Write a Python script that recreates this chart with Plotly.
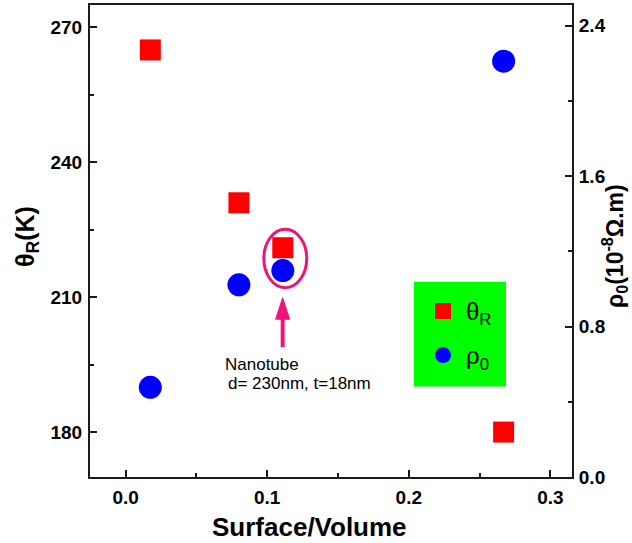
import plotly.graph_objects as go

# ---- data ----
surface_volume = [0.0174, 0.080, 0.111, 0.267]
theta_R = [265, 231, 221, 180]          # K (left axis)
rho_0 = [0.477, 1.022, 1.098, 2.211]    # 10^-8 Ohm.m (right axis)

x_ticks = [0.0, 0.1, 0.2, 0.3]
x_tick_labels = ["0.0", "0.1", "0.2", "0.3"]
left_ticks = [180, 210, 240, 270]
right_ticks = [0.0, 0.8, 1.6, 2.4]
right_tick_labels = ["0.0", "0.8", "1.6", "2.4"]

FONT = "Liberation Sans, Arial, sans-serif"
AX = "#1a1a1a"
PINK = "#f0147a"

fig = go.Figure()
fig.add_trace(go.Scatter(
    x=surface_volume, y=theta_R, mode="markers", name="θ<sub>R</sub>",
    legendgroup="t",
    marker=dict(symbol="square", size=21, color="#ff0000", line=dict(width=0)),
    yaxis="y"))
fig.add_trace(go.Scatter(
    x=surface_volume, y=rho_0, mode="markers", name="ρ<sub>0</sub>",
    legendgroup="r",
    marker=dict(symbol="circle", size=23, color="#0000ff", line=dict(width=0)),
    yaxis="y2"))

tickfont = dict(family=FONT, size=19, color="black", weight="bold")

fig.update_layout(
    width=632, height=543, autosize=False,
    margin=dict(l=90, r=60, t=3, b=66),
    paper_bgcolor="white", plot_bgcolor="white",
    font=dict(family=FONT, color="black"),
    xaxis=dict(range=[-0.0252, 0.3153], tickvals=x_ticks, ticktext=x_tick_labels,
               ticks="inside", ticklen=7, tickwidth=1.5, tickcolor=AX,
               minor=dict(ticks="inside", ticklen=4, tickwidth=1.5, tickcolor=AX, dtick=0.05, tick0=0),
               showline=True, linecolor=AX, linewidth=2, mirror=True,
               showgrid=False, zeroline=False, tickfont=tickfont, ticklabelstandoff=2),
    yaxis=dict(range=[170, 275], tickvals=left_ticks,
               ticks="inside", ticklen=7, tickwidth=1.5, tickcolor=AX,
               minor=dict(ticks="inside", ticklen=4, tickwidth=1.5, tickcolor=AX, dtick=15, tick0=0),
               showline=True, linecolor=AX, linewidth=2,
               showgrid=False, zeroline=False, tickfont=tickfont, ticklabelstandoff=2),
    yaxis2=dict(range=[0, 2.51], tickvals=right_ticks, ticktext=right_tick_labels,
                overlaying="y", side="right",
                ticks="inside", ticklen=7, tickwidth=1.5, tickcolor=AX,
                minor=dict(ticks="inside", ticklen=4, tickwidth=1.5, tickcolor=AX, dtick=0.4, tick0=0),
                showline=True, linecolor=AX, linewidth=2,
                showgrid=False, zeroline=False, tickfont=tickfont, ticklabelstandoff=1),
    showlegend=True,
    legend=dict(x=(420 - 90) / 482, y=(477 - 288) / 474, xanchor="left", yanchor="top",
                bgcolor="rgba(0,0,0,0)", borderwidth=0, itemwidth=36,
                font=dict(family=FONT, size=24, color="black"),
                traceorder="grouped", tracegroupgap=10),
)

# green legend box (behind legend)
fig.add_shape(type="rect", xref="paper", yref="paper",
              x0=(414 - 90) / 482, x1=(506 - 90) / 482,
              y0=(477 - 386) / 474, y1=(477 - 281) / 474,
              fillcolor="#00ff00", line=dict(width=0), layer="below")

# ellipse around nanotube point
fig.add_shape(type="circle", xref="x", yref="y",
              x0=0.0976, x1=0.1279, y0=212.1, y1=225.1,
              line=dict(color=PINK, width=3))

# arrow: shaft + head
fig.add_shape(type="line", xref="x", yref="y",
              x0=0.1109, x1=0.1109, y0=198.9, y1=205.8,
              line=dict(color=PINK, width=4))
fig.add_shape(type="path", xref="x", yref="y",
              path="M 0.1109 209.87 L 0.10595 205.1 L 0.11585 205.1 Z",
              fillcolor=PINK, line=dict(color=PINK, width=1))

annot_font = dict(family=FONT, size=17, color="black")
fig.add_annotation(x=0.069, y=195.0, xref="x", yref="y", text="Nanotube",
                   showarrow=False, xanchor="left", yanchor="middle", font=annot_font)
fig.add_annotation(x=0.0709, y=190.75, xref="x", yref="y", text="d= 230nm, t=18nm",
                   showarrow=False, xanchor="left", yanchor="middle", font=annot_font)

title_font = dict(family=FONT, size=25, color="black", weight="bold")
fig.add_annotation(x=(27 - 90) / 482, y=(477 - 235) / 474, xref="paper", yref="paper",
                   text="θ<sub>R</sub>(K)", textangle=-90, showarrow=False,
                   xanchor="center", yanchor="middle", font=title_font)
fig.add_annotation(x=(614 - 90) / 482, y=(477 - 245) / 474, xref="paper", yref="paper",
                   text="ρ<sub>0</sub>(10<sup>-8</sup>Ω.m)", textangle=-90, showarrow=False,
                   xanchor="center", yanchor="middle", font=dict(family=FONT, size=23, color="black", weight="bold"))
fig.add_annotation(x=(309 - 90) / 482, y=(477 - 527.6) / 474, xref="paper", yref="paper",
                   text="Surface/Volume", showarrow=False,
                   xanchor="center", yanchor="middle", font=dict(family=FONT, size=26, color="black", weight="bold"))

fig.write_html("out.html")
